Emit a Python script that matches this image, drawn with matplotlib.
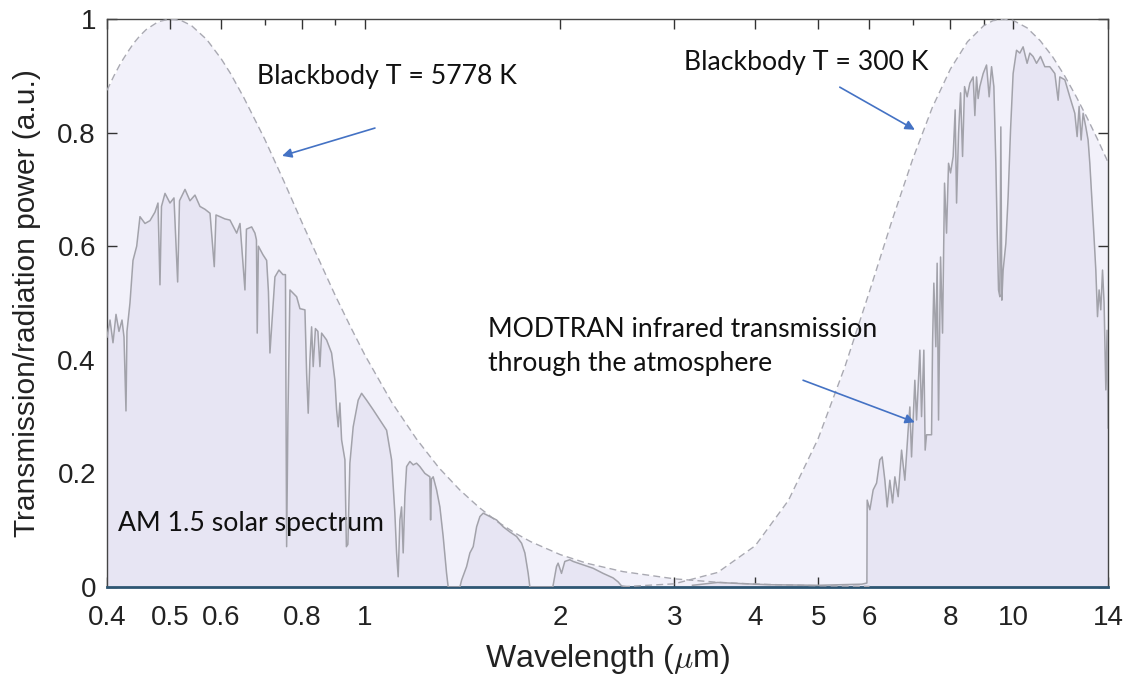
import matplotlib
matplotlib.use("Agg")
import matplotlib.pyplot as plt
from matplotlib.ticker import FixedLocator, NullFormatter

# Normalised blackbody curves (peak = 1)
bb_sun_wl = [0.40, 0.41, 0.42, 0.43, 0.44, 0.45, 0.46, 0.48, 0.50, 0.52, 0.54, 0.55, 0.57,
             0.60, 0.62, 0.65, 0.70, 0.75, 0.80, 0.85, 0.90, 0.95,
             1.00, 1.10, 1.20, 1.30, 1.40, 1.50, 1.60, 1.70, 1.80, 2.00, 2.20, 2.50,
             3.00, 3.50, 4.00, 5.00, 6.00]
bb_sun_val = [0.8745, 0.900, 0.9225, 0.941, 0.9577, 0.971, 0.9816, 0.9953, 1.000, 0.9976, 0.9884, 0.980, 0.9639,
              0.930, 0.9044, 0.862, 0.789, 0.714, 0.641, 0.575, 0.513, 0.458,
              0.408, 0.325, 0.261, 0.210, 0.171, 0.140, 0.115, 0.0957, 0.080, 0.0571, 0.0417, 0.0271,
              0.0144, 0.0083, 0.0051, 0.0022, 0.0011]

bb_earth_wl = [2.5, 3.0, 3.5, 4.0, 4.5, 5.0, 5.5, 6.0, 6.5, 7.0, 7.5, 8.0, 8.5,
               9.0, 9.3, 9.66, 10.0, 10.5, 11.0, 11.5, 12.0, 12.5, 13.0, 13.5, 14.0]
bb_earth_val = [0.0006, 0.0056, 0.0256, 0.0727, 0.1525, 0.261, 0.388, 0.520, 0.645, 0.754, 0.844, 0.912, 0.960,
                0.988, 0.997, 1.000, 0.9975, 0.9845, 0.962, 0.9335, 0.900, 0.8637, 0.826, 0.7874, 0.748]

# AM 1.5 solar spectrum (normalised)
am15_wl = [0.400, 0.4043, 0.4086, 0.4130, 0.4174, 0.4219, 0.4249, 0.4279, 0.4294, 0.4340,
           0.4387, 0.4445, 0.4497, 0.4578, 0.4660, 0.4743, 0.4794, 0.4828, 0.4854, 0.4915,
           0.5003, 0.5074, 0.5141, 0.5175, 0.5277, 0.5371, 0.5467, 0.5565, 0.5665, 0.5767,
           0.5855, 0.5891, 0.5975, 0.6082, 0.6191, 0.6340, 0.6415, 0.6529, 0.6564, 0.6686,
           0.6765, 0.6801, 0.6820, 0.6849, 0.6960, 0.7052, 0.7097, 0.7135, 0.7186, 0.7263,
           0.7367, 0.7472, 0.7539, 0.7571, 0.7606, 0.7661, 0.7845, 0.7937, 0.8079, 0.8128,
           0.8174, 0.8224, 0.8273, 0.8320, 0.8386, 0.8460, 0.8521, 0.8572, 0.8725, 0.8881,
           0.8987, 0.9041, 0.9093, 0.9147, 0.9203, 0.9312, 0.9361, 0.9411, 0.9478, 0.9590,
           0.9762, 0.9881, 1.0057, 1.0296, 1.0544, 1.0798, 1.0991, 1.1120, 1.1188, 1.1251,
           1.1320, 1.1388, 1.1453, 1.1522, 1.1593, 1.1729, 1.1867, 1.2011, 1.2153, 1.2371,
           1.2592, 1.2624, 1.2659, 1.2741, 1.2896, 1.3048, 1.3201, 1.3362, 1.3438, 1.4009,
           1.4094, 1.4347, 1.4516, 1.4687, 1.4866, 1.5041, 1.5218, 1.5584, 1.5959, 1.6337,
           1.6730, 1.7133, 1.7441, 1.7646, 1.7854, 1.7961, 1.9487, 1.9744, 1.9857, 2.0098,
           2.0335, 2.0700, 2.0944, 2.1700, 2.2485, 2.3297, 2.4140, 2.4573, 2.4872, 2.55]
am15_val = [0.44, 0.47, 0.43, 0.48, 0.45, 0.47, 0.44, 0.31, 0.45, 0.50,
            0.575, 0.60, 0.652, 0.64, 0.645, 0.66, 0.676, 0.532, 0.67, 0.693,
            0.676, 0.685, 0.537, 0.68, 0.70, 0.68, 0.69, 0.67, 0.665, 0.658,
            0.564, 0.655, 0.652, 0.648, 0.646, 0.623, 0.64, 0.523, 0.63, 0.634,
            0.623, 0.611, 0.447, 0.60, 0.585, 0.575, 0.52, 0.412, 0.465, 0.546,
            0.558, 0.55, 0.55, 0.071, 0.30, 0.523, 0.511, 0.49, 0.488, 0.376,
            0.306, 0.40, 0.458, 0.388, 0.455, 0.45, 0.388, 0.447, 0.435, 0.412,
            0.364, 0.312, 0.282, 0.324, 0.259, 0.224, 0.071, 0.075, 0.218, 0.282,
            0.329, 0.341, 0.329, 0.312, 0.294, 0.276, 0.224, 0.130, 0.06, 0.018,
            0.118, 0.141, 0.06, 0.159, 0.212, 0.221, 0.215, 0.218, 0.212, 0.20,
            0.194, 0.118, 0.19, 0.194, 0.171, 0.141, 0.089, 0.024, 0.0, 0.0,
            0.012, 0.036, 0.06, 0.071, 0.106, 0.124, 0.130, 0.124, 0.118, 0.106,
            0.097, 0.089, 0.077, 0.06, 0.024, 0.0, 0.0, 0.036, 0.042, 0.024,
            0.045, 0.048, 0.045, 0.039, 0.033, 0.024, 0.016, 0.009, 0.002, 0.0]

# MODTRAN infrared atmospheric transmission (scaled)
modtran_wl = [3.2, 3.5, 3.8, 4.2, 5.0, 5.841, 5.946, 5.952, 6.009, 6.080,
              6.154, 6.226, 6.277, 6.338, 6.390, 6.451, 6.514, 6.567, 6.644, 6.725,
              6.804, 6.884, 6.926, 6.968, 7.050, 7.093, 7.177, 7.220, 7.279, 7.313,
              7.349, 7.481, 7.508, 7.542, 7.596, 7.631, 7.669, 7.724, 7.779, 7.834,
              7.890, 7.946, 8.003, 8.077, 8.135, 8.176, 8.234, 8.293, 8.352, 8.411,
              8.489, 8.571, 8.672, 8.725, 8.777, 8.827, 8.880, 8.986, 9.094, 9.179,
              9.258, 9.334, 9.400, 9.444, 9.490, 9.535, 9.568, 9.602, 9.647, 9.740,
              9.819, 9.904, 9.995, 10.117, 10.236, 10.356, 10.504, 10.606, 10.730, 10.861,
              11.016, 11.186, 11.386, 11.591, 11.727, 11.798, 12.010, 12.224, 12.443, 12.546,
              12.635, 12.725, 12.816, 12.939, 13.044, 13.124, 13.231, 13.312, 13.407, 13.488,
              13.565, 13.646, 13.730, 13.807, 13.892, 13.956, 14.0]
modtran_val = [0.003, 0.008, 0.006, 0.004, 0.003, 0.005, 0.007, 0.153, 0.136, 0.171,
               0.183, 0.224, 0.229, 0.188, 0.141, 0.188, 0.148, 0.194, 0.159, 0.241,
               0.188, 0.276, 0.317, 0.229, 0.364, 0.294, 0.417, 0.30, 0.417, 0.241,
               0.268, 0.268, 0.43, 0.535, 0.423, 0.57, 0.294, 0.581, 0.447, 0.711,
               0.623, 0.746, 0.729, 0.758, 0.84, 0.676, 0.799, 0.87, 0.758, 0.881,
               0.863, 0.887, 0.898, 0.83, 0.898, 0.86, 0.881, 0.904, 0.919, 0.863,
               0.916, 0.881, 0.746, 0.629, 0.523, 0.511, 0.81, 0.505, 0.558, 0.605,
               0.687, 0.805, 0.904, 0.945, 0.94, 0.951, 0.922, 0.94, 0.934, 0.922,
               0.934, 0.916, 0.916, 0.904, 0.857, 0.898, 0.893, 0.863, 0.834, 0.793,
               0.846, 0.787, 0.834, 0.81, 0.787, 0.746, 0.676, 0.623, 0.558, 0.476,
               0.523, 0.488, 0.558, 0.50, 0.347, 0.452, 0.28]

x_major = [0.4, 0.5, 0.6, 0.8, 1, 2, 3, 4, 5, 6, 8, 10, 14]
x_major_labels = ["0.4", "0.5", "0.6", "0.8", "1", "2", "3", "4", "5", "6", "8", "10", "14"]
x_minor = [0.7, 0.9, 7, 9]
y_ticks = [0, 0.2, 0.4, 0.6, 0.8, 1]
y_tick_labels = ["0", "0.2", "0.4", "0.6", "0.8", "1"]

BB_FILL = "#F2F1FA"
SPEC_FILL = "#E7E5F3"
SPEC_LINE = "#A2A2AA"
DASH = "#A9A9B2"
ARROW = "#4472C4"

plt.rcParams["font.family"] = ["Liberation Sans", "DejaVu Sans"]
plt.rcParams["mathtext.fontset"] = "cm"

fig = plt.figure(figsize=(11.28, 6.75), dpi=100)
ax = fig.add_axes([107 / 1128, 1 - 587 / 675, 1001 / 1128, 568 / 675])

ax.fill_between(bb_sun_wl, 0, bb_sun_val, color=BB_FILL, lw=0, zorder=1)
ax.fill_between(bb_earth_wl, 0, bb_earth_val, color=BB_FILL, lw=0, zorder=1)
ax.fill_between(am15_wl, 0, am15_val, color=SPEC_FILL, lw=0, zorder=2)
ax.fill_between(modtran_wl, 0, modtran_val, color=SPEC_FILL, lw=0, zorder=2)

ax.plot(bb_sun_wl, bb_sun_val, ls=(0, (5, 3)), color=DASH, lw=1.0, zorder=3)
ax.plot(bb_earth_wl, bb_earth_val, ls=(0, (5, 3)), color=DASH, lw=1.0, zorder=3)
ax.plot(am15_wl, am15_val, color=SPEC_LINE, lw=1.1, zorder=4)
ax.plot(modtran_wl, modtran_val, color=SPEC_LINE, lw=1.1, zorder=4)

ax.set_xscale("log")
ax.set_xlim(0.4, 14)
ax.set_ylim(0, 1)
ax.xaxis.set_major_locator(FixedLocator(x_major))
ax.set_xticklabels(x_major_labels)
ax.xaxis.set_minor_locator(FixedLocator(x_minor))
ax.xaxis.set_minor_formatter(NullFormatter())
ax.set_yticks(y_ticks)
ax.set_yticklabels(y_tick_labels)

ax.tick_params(axis="both", which="both", direction="in", top=True, right=True,
               labelsize=20, colors="#333333", labelcolor="#222222", width=1.0)
ax.tick_params(axis="both", which="major", length=7)
ax.tick_params(axis="x", which="minor", length=4)
ax.tick_params(axis="x", pad=13)
ax.tick_params(axis="y", pad=8)

for side in ["left", "top", "right"]:
    ax.spines[side].set_color("#444444")
    ax.spines[side].set_linewidth(1.0)
ax.spines["bottom"].set_color("#2E5673")
ax.spines["bottom"].set_linewidth(2.0)

ax.set_xlabel(r"Wavelength ($\mu$m)", fontsize=23, color="#222222", labelpad=8)
ax.set_ylabel("Transmission/radiation power (a.u.)", fontsize=21.5, color="#222222", labelpad=12)

note_font = dict(family=["Lato", "DejaVu Sans"], fontsize=19.2, color="#111111")
ax.text(0.682, 0.898, "Blackbody T = 5778 K", va="center", ha="left", **note_font)
ax.text(3.105, 0.924, "Blackbody T = 300 K", va="center", ha="left", **note_font)
ax.text(1.548, 0.454, "MODTRAN infrared transmission", va="center", ha="left", **note_font)
ax.text(1.548, 0.393, "through the atmosphere", va="center", ha="left", **note_font)
ax.text(0.416, 0.111, "AM 1.5 solar spectrum", va="center", ha="left", **note_font)

arrow_props = dict(arrowstyle="-|>", color=ARROW, lw=1.2, mutation_scale=14,
                   shrinkA=0, shrinkB=0)
ax.annotate("", xy=(0.745, 0.759), xytext=(1.036, 0.808), arrowprops=arrow_props, zorder=5)
ax.annotate("", xy=(7.05, 0.805), xytext=(5.40, 0.880), arrowprops=arrow_props, zorder=5)
ax.annotate("", xy=(7.05, 0.290), xytext=(4.74, 0.364), arrowprops=arrow_props, zorder=5)

fig.savefig("out.png", dpi=100, facecolor="white")
